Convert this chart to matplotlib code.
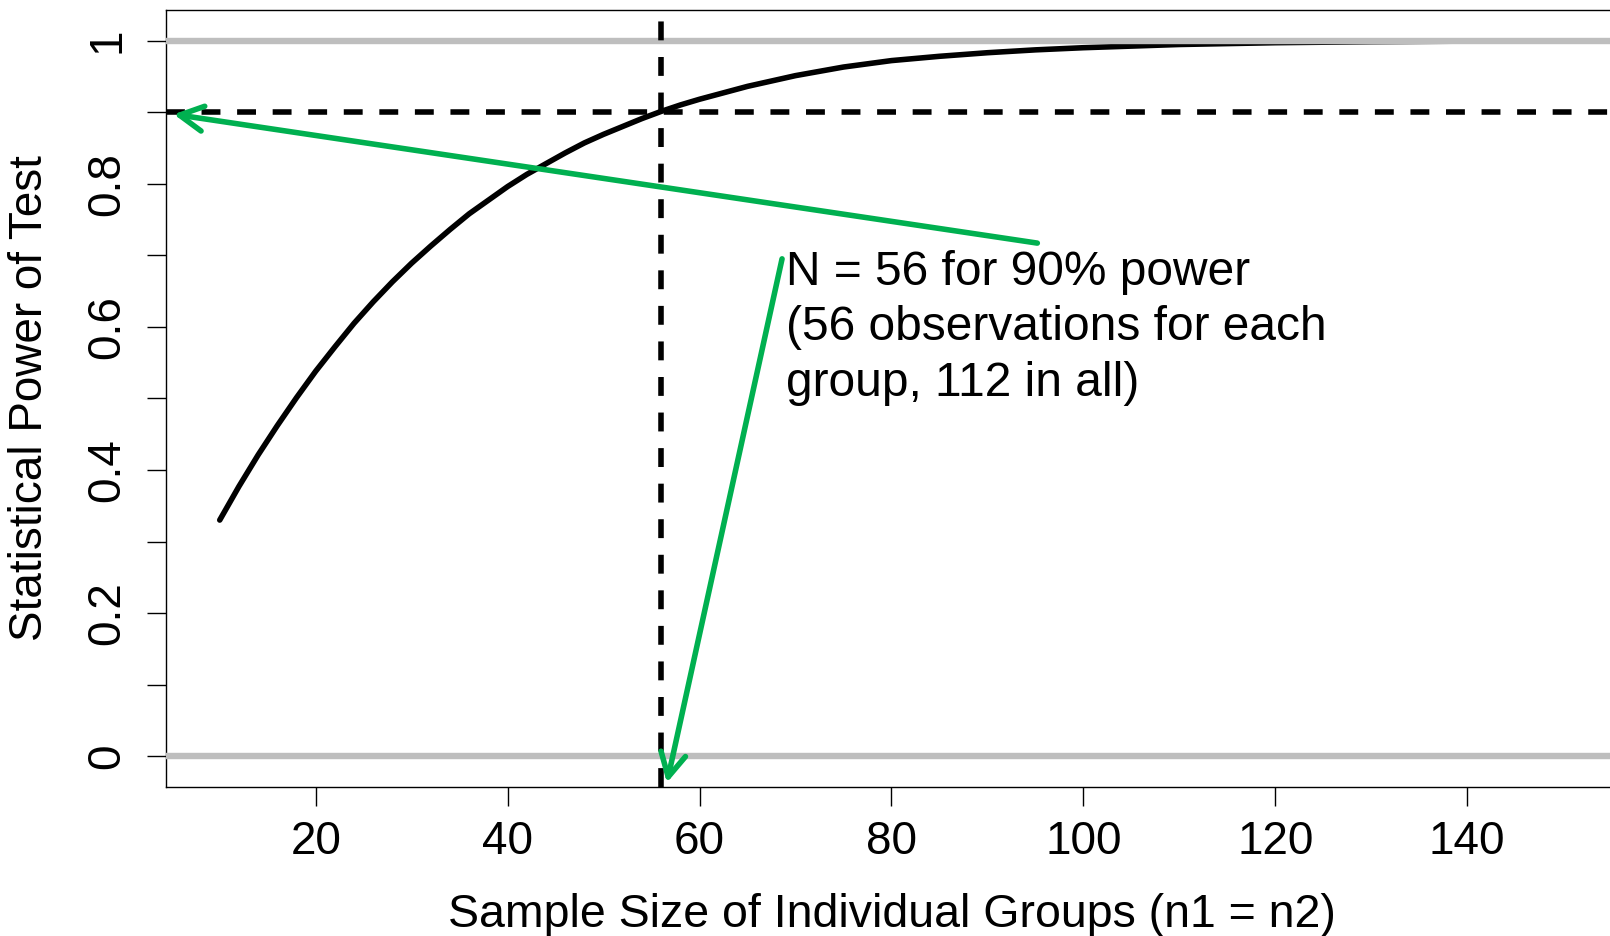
import matplotlib.pyplot as plt

plt.rcParams['font.family'] = ['Liberation Sans', 'DejaVu Sans']

# power curve, values
sample_size = [10, 12, 14, 16, 18, 20, 22, 24, 26, 28, 30, 32, 34, 36, 38, 40,
               42, 44, 46, 48, 50, 52, 54, 56, 58, 60, 65, 70, 75, 80, 85, 90,
               95, 100, 110, 120, 130, 140, 150]
power = [0.330, 0.377, 0.421, 0.462, 0.501, 0.538, 0.572, 0.605, 0.635, 0.663,
         0.689, 0.713, 0.736, 0.758, 0.777, 0.796, 0.813, 0.828, 0.843, 0.857,
         0.869, 0.880, 0.891, 0.901, 0.910, 0.918, 0.936, 0.951, 0.963, 0.972,
         0.978, 0.983, 0.987, 0.990, 0.9945, 0.997, 0.9984, 0.9992, 0.9996]

target_n = 56
target_power = 0.9
ref_levels = [0, 1]

x_ticks = [20, 40, 60, 80, 100, 120, 140]
y_ticks = [0, 0.1, 0.2, 0.3, 0.4, 0.5, 0.6, 0.7, 0.8, 0.9, 1.0]
y_tick_labels = ['0', '', '0.2', '', '0.4', '', '0.6', '', '0.8', '', '1']

note = 'N = 56 for 90% power\n(56 observations for each\ngroup, 112 in all)'

GREEN = '#00B050'
GREY = '#BEBEBE'
FS = 33

fig = plt.figure(figsize=(16.1, 9.36), dpi=100)
# R-style plot region, its right edge runs just past the image
ax = fig.add_axes([0.1031, 0.159, 0.9012, 0.8307])

ax.plot(sample_size, power, color='black', lw=4, zorder=2,
        solid_capstyle='round', solid_joinstyle='round')
for lev in ref_levels:
    ax.axhline(lev, color=GREY, lw=4.6, zorder=3)

dash = (0, (3.4, 3.0))
ax.axhline(target_power, color='black', lw=4, linestyle=dash, zorder=4)
ax.axvline(target_n, color='black', lw=4, linestyle=dash, zorder=4)

# annotation arrows
arrow = dict(arrowstyle='->,head_length=0.85,head_width=0.45', color=GREEN, lw=4,
             mutation_scale=20, shrinkA=0, shrinkB=0)
ax.annotate('', xy=(5.2, 0.897), xytext=(95.2, 0.717), arrowprops=arrow, zorder=5)
ax.annotate('', xy=(56.6, -0.037), xytext=(68.6, 0.695), arrowprops=arrow, zorder=5)

# baseline of the last line of the note
ax.text(69.0, 0.504, note, fontsize=34.5, va='baseline', ha='left', linespacing=1.3)

ax.set_xlim(4.4, 155.6)
ax.set_ylim(-0.0432, 1.0432)
ax.set_xticks(x_ticks)
ax.set_xticklabels([str(t) for t in x_ticks])
ax.set_yticks(y_ticks)
ax.set_yticklabels(y_tick_labels, rotation=90, va='center')

ax.tick_params(axis='both', direction='out', length=13.5, width=1, labelsize=FS)
ax.tick_params(axis='x', pad=10)
ax.tick_params(axis='y', pad=13)
for s in ax.spines.values():
    s.set_linewidth(1)

ax.set_xlabel('Sample Size of Individual Groups (n1 = n2)', fontsize=33.5, va='center')
ax.xaxis.set_label_coords(0.5, -0.165)
ax.set_ylabel('Statistical Power of Test', fontsize=FS, va='center')
ax.yaxis.set_label_coords(-0.094, 0.5)

fig.savefig('out.png', dpi=100)
